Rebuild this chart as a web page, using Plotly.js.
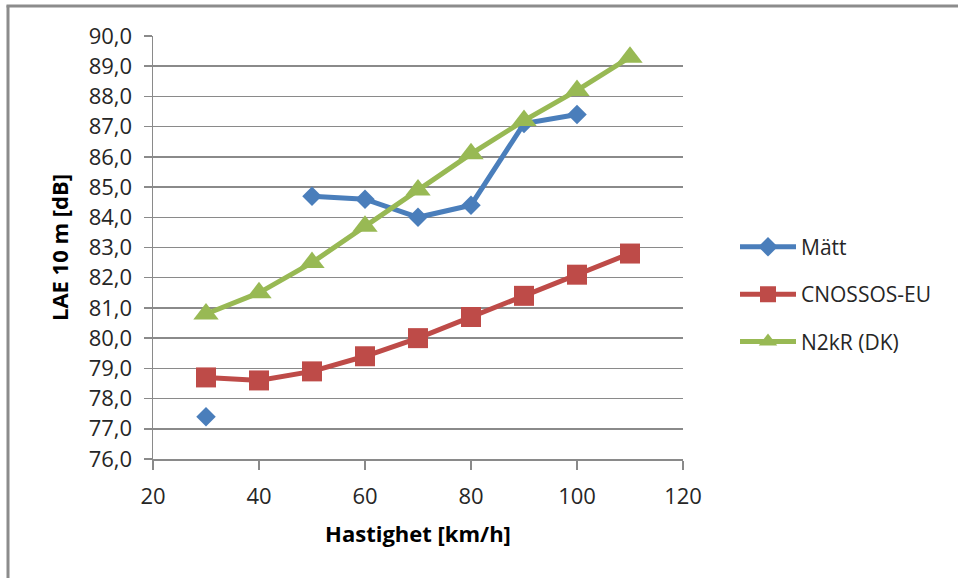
<!DOCTYPE html>
<html>
<head>
<meta charset="utf-8">
<script src="https://cdn.plot.ly/plotly-3.0.1.min.js"></script>
<style>
  html, body { margin: 0; padding: 0; background: #fff; }
  #chart { width: 958px; height: 578px; }
</style>
</head>
<body>
<div id="chart"></div>
<script>
// Speeds (km/h)
const speeds = [30, 40, 50, 60, 70, 80, 90, 100, 110];
// Series values (dB); null = no measurement
const mattValues = [77.4, null, 84.7, 84.6, 84.0, 84.4, 87.1, 87.4, null];
const cnossosValues = [78.7, 78.6, 78.9, 79.4, 80.0, 80.7, 81.4, 82.1, 82.8];
const n2krValues = [80.8, 81.5, 82.5, 83.7, 84.9, 86.1, 87.2, 88.2, 89.3];
const seriesNames = ["Mätt", "CNOSSOS-EU", "N2kR (DK)"];
const xTickVals = [20, 40, 60, 80, 100, 120];
const yTickVals = [76, 77, 78, 79, 80, 81, 82, 83, 84, 85, 86, 87, 88, 89, 90];
const yTickText = yTickVals.map(v => v.toFixed(1).replace('.', ','));

const FONT = '"Open Sans", Lato, sans-serif';
const GRID = '#8a8a8a';

const traces = [
  {
    x: speeds, y: mattValues, name: seriesNames[0], legendgroup: 'a',
    mode: 'lines+markers', connectgaps: false,
    line: { color: '#4A7EBB', width: 5 },
    marker: { symbol: 'diamond', size: 15, color: '#4A7EBB' }
  },
  {
    x: speeds, y: cnossosValues, name: seriesNames[1], legendgroup: 'b',
    mode: 'lines+markers',
    line: { color: '#BE4B48', width: 5 },
    marker: { symbol: 'square', size: 20, color: '#BE4B48' }
  },
  {
    x: speeds, y: n2krValues, name: seriesNames[2], legendgroup: 'c',
    mode: 'lines+markers',
    line: { color: '#98B954', width: 5 },
    marker: { symbol: 'triangle-up', size: 22, color: '#98B954' }
  }
];

const L = 153, R = 683, T = 35.5, B = 459;
const W = 958, H = 578;
const px = v => (v - L) / (R - L);
const py = v => (B - v) / (B - T);

const layout = {
  width: W, height: H,
  margin: { l: L, r: W - R, t: T, b: H - B, pad: 0 },
  paper_bgcolor: '#ffffff', plot_bgcolor: '#ffffff',
  font: { family: FONT, size: 20, color: '#262626' },
  showlegend: true,
  legend: {
    x: px(735), xanchor: 'left', y: py(294), yanchor: 'middle',
    font: { family: FONT, size: 21, color: '#262626' },
    tracegroupgap: 17, itemwidth: 56,
    bgcolor: 'rgba(0,0,0,0)', traceorder: 'grouped'
  },
  xaxis: {
    range: [20, 120], tickvals: xTickVals, ticktext: xTickVals.map(String),
    showgrid: false, zeroline: false,
    showline: true, linecolor: GRID, linewidth: 1.5,
    ticks: 'outside', ticklen: 9, tickcolor: GRID, tickwidth: 1.5,
    ticklabelstandoff: 8,
    tickfont: { family: FONT, size: 22, color: '#262626' },
    title: { text: '<b>Hastighet [km/h]</b>', font: { family: FONT, size: 22, color: '#000' }, standoff: 17 }
  },
  yaxis: {
    range: [76, 90], tickvals: yTickVals, ticktext: yTickText,
    showgrid: true, gridcolor: GRID, gridwidth: 1.5, zeroline: false,
    showline: true, linecolor: GRID, linewidth: 1.5,
    ticks: 'outside', ticklen: 8, tickcolor: GRID, tickwidth: 1.5,
    ticklabelstandoff: 7,
    tickfont: { family: FONT, size: 22, color: '#262626' },
    title: { text: '<b>LAE 10 m [dB]</b>', font: { family: FONT, size: 22, color: '#000' }, standoff: 14 }
  },
  shapes: [
    { type: 'line', xref: 'paper', yref: 'paper', x0: px(8), x1: px(8), y0: py(5), y1: py(H + 5),
      line: { color: '#8c8c8c', width: 3 } },
    { type: 'line', xref: 'paper', yref: 'paper', x0: px(6.5), x1: px(W + 5), y0: py(5.5), y1: py(5.5),
      line: { color: '#8c8c8c', width: 3 } }
  ]
};

Plotly.newPlot('chart', traces, layout, { displayModeBar: false, staticPlot: true });
</script>
</body>
</html>
